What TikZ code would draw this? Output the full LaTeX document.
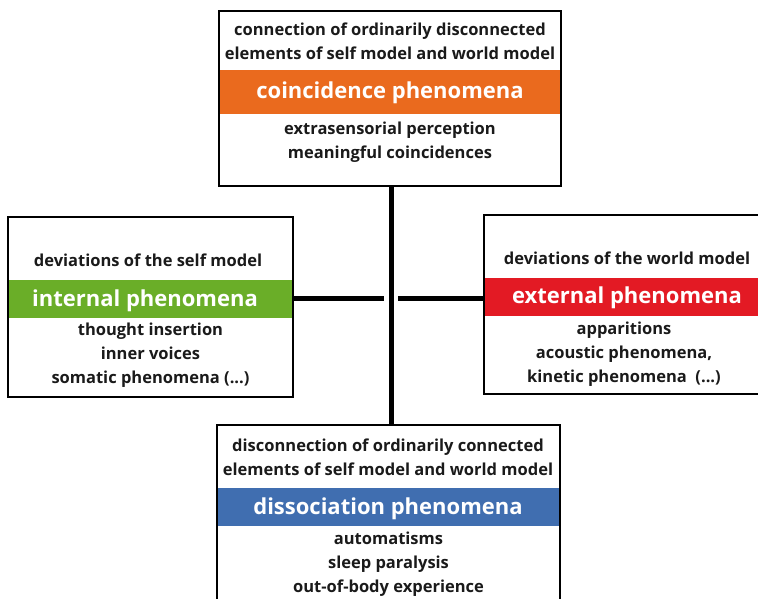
\documentclass[tikz,border=0pt]{standalone}
\usepackage{fontspec}
\setmainfont{Open Sans}
\definecolor{cOrange}{RGB}{234,106,30}
\definecolor{cGreen}{RGB}{106,174,40}
\definecolor{cRed}{RGB}{227,26,36}
\definecolor{cBlue}{RGB}{64,110,176}
\definecolor{cText}{RGB}{26,26,26}
\begin{document}
\begin{tikzpicture}[x=1pt,y=-1pt,
  frame/.style={draw=black, line width=2pt, fill=white, inner sep=0pt, outer sep=0pt},
  band/.style={fill=#1, draw=none, inner sep=0pt, outer sep=0pt},
  small/.style={text=cText, font=\fontsize{16.5}{24}\selectfont\bfseries, align=center, inner sep=0pt},
  title/.style={text=white, font=\fontsize{22}{26}\selectfont\bfseries, inner sep=0pt},
  wire/.style={line width=5pt, line cap=butt}]
\useasboundingbox (0,0) rectangle (758,599);
\clip (0,0) rectangle (758,599);

% spine coordinates
\coordinate (spine) at (391,298.5);
\coordinate (hl) at (384,298.5);
\coordinate (hr) at (398,298.5);

% top box
\node[frame, minimum width=342pt, minimum height=175pt] (top) at (390,98.5) {};
\node[band=cOrange, minimum width=340pt, minimum height=44pt] (topband) at (390,92) {};
\node[small] (toptxt) at (390,41) {connection of ordinarily disconnected\\elements of self model and world model};
\node[title] (toptitle) at (390,92.5) {coincidence phenomena};
\node[small] (toplist) at (390,142) {extrasensorial perception\\meaningful coincidences};

% left box
\node[frame, minimum width=285pt, minimum height=180pt] (left) at (150.5,307) {};
\node[band=cGreen, minimum width=283pt, minimum height=38pt] (leftband) at (150.5,299) {};
\node[small] (lefttxt) at (148,260) {deviations of the self model};
\node[title] (lefttitle) at (145,300.5) {internal phenomena};
\node[small] (leftlist) at (150.5,355) {thought insertion\\inner voices\\somatic phenomena (...)};

% right box
\node[frame, minimum width=284pt, minimum height=179pt] (right) at (626,304.5) {};
\node[band=cRed, minimum width=282pt, minimum height=38pt] (rightband) at (626,296.7) {};
\node[small] (righttxt) at (627,258) {deviations of the world model};
\node[title] (righttitle) at (627,297.5) {external phenomena};
\node[small] (rightlist) at (624,354) {apparitions\\acoustic phenomena,\\kinetic phenomena\ \ (...)};

% bottom box
\node[frame, minimum width=343pt, minimum height=200pt] (bottom) at (388.5,525) {};
\node[band=cBlue, minimum width=341pt, minimum height=38pt] (bottomband) at (388.5,507) {};
\node[small] (bottomtxt) at (388,457.5) {disconnection of ordinarily connected\\elements of self model and world model};
\node[title] (bottomtitle) at (388,508.5) {dissociation phenomena};
\node[small] (bottomlist) at (388.5,564) {automatisms\\sleep paralysis\\out-of-body experience};

% connectors
\draw[wire] (top.south -| spine) -- (bottom.north -| spine);
\draw[wire] (left.east |- hl) -- (hl);
\draw[wire] (hr) -- (right.west |- hr);
\end{tikzpicture}
\end{document}
